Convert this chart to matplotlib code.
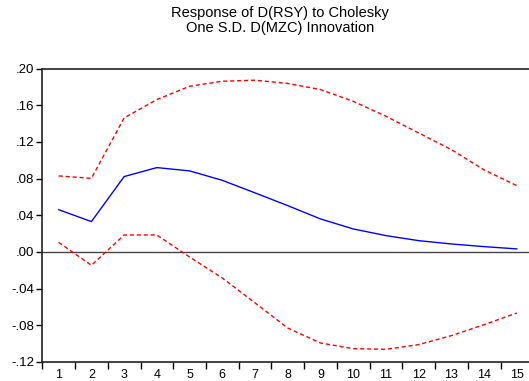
import numpy as np
from matplotlib import pyplot as plt
from matplotlib.ticker import FuncFormatter

plt.rcParams["font.family"] = ["Liberation Sans", "DejaVu Sans"]

# impulse response of D(RSY) with +/- 2 S.E. bands
periods = np.arange(1, 16)
response = [0.0461, 0.0331, 0.0822, 0.0920, 0.0884, 0.0781, 0.0644, 0.0505,
            0.0360, 0.0251, 0.0178, 0.0123, 0.0087, 0.0058, 0.0033]
upper = [0.0829, 0.0803, 0.1462, 0.1662, 0.1807, 0.1862, 0.1873, 0.1838,
         0.1771, 0.1643, 0.1480, 0.1298, 0.1116, 0.0895, 0.0723]
lower = [0.0105, -0.0146, 0.0185, 0.0185, -0.0055, -0.0284, -0.0556, -0.0830,
         -0.0993, -0.1055, -0.1062, -0.1011, -0.0913, -0.0793, -0.0666]
yticks = [-0.12, -0.08, -0.04, 0.00, 0.04, 0.08, 0.12, 0.16, 0.20]

fig = plt.figure(figsize=(5.29, 3.81), dpi=100)
ax = fig.add_axes([0.080, 0.050, 0.928, 0.770])

ax.axhline(0, color="#444444", lw=1.0, zorder=1)
ax.plot(periods, response, color="blue", lw=1.0, zorder=3)
ax.plot(periods, upper, color="red", lw=1.0, ls=(0, (3, 2)), zorder=2)
ax.plot(periods, lower, color="red", lw=1.0, ls=(0, (3, 2)), zorder=2)

ax.set_xlim(0.5, 15.5)
ax.set_ylim(-0.12, 0.20)

ax.set_yticks(yticks)
ax.yaxis.set_major_formatter(FuncFormatter(lambda v, p: f"{v:.2f}".replace("0.", ".")))
ax.tick_params(axis="y", direction="out", length=4, width=1, labelsize=9.5, pad=2)

ax.set_xticks(periods)
ax.set_xticklabels([str(p) for p in periods])
ax.set_xticks(np.arange(0.5, 16, 1), minor=True)
ax.tick_params(axis="x", which="major", length=0, labelsize=9, pad=5)
ax.tick_params(axis="x", which="minor", direction="out", length=5, width=1)

for s in ax.spines.values():
    s.set_linewidth(1.2)
    s.set_color("#222222")

fig.text(0.53, 0.985, "Response of D(RSY) to Cholesky\nOne S.D. D(MZC) Innovation",
         ha="center", va="top", fontsize=10.5, linespacing=1.15)

fig.savefig("out.png", dpi=100)
